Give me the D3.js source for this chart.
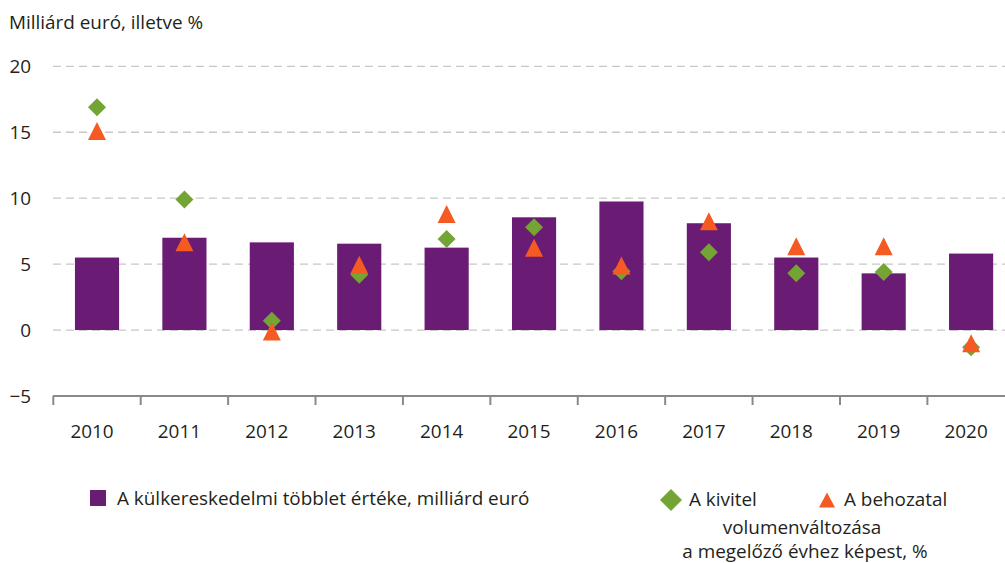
<!DOCTYPE html>
<html><head><meta charset="utf-8">
<script src="https://cdn.jsdelivr.net/npm/d3@7"></script>
<style>body{margin:0;background:#fff}svg{display:block;font-family:"Open Sans","Noto Sans",sans-serif}</style>
</head><body><svg id="c" width="1005" height="563"></svg>
<script>
const years = ["2010","2011","2012","2013","2014","2015","2016","2017","2018","2019","2020"];
const surplus = [5.5, 7.0, 6.65, 6.55, 6.25, 8.55, 9.75, 8.1, 5.5, 4.3, 5.8];
const exportVol = [16.9, 9.9, 0.7, 4.2, 6.9, 7.8, 4.45, 5.9, 4.3, 4.4, -1.3];
const importVol = [15.1, 6.65, -0.1, 4.95, 8.8, 6.25, 4.9, 8.25, 6.35, 6.35, -1.0];
const yTicks = [20, 15, 10, 5, 0, -5];

const purple = "#6a1b73", green = "#74a433", orange = "#f45a22";
const FS = 18.9;
const svg = d3.select("#c");
const x = d3.scaleBand().domain(years).range([53.3, 1014.8]).paddingInner(0.495).paddingOuter(0.2475);
const xb = d3.scaleBand().domain(years).range([53.3, 1014.8]);
const y = d3.scaleLinear().domain([-5, 20]).range([396, 66.3]);

svg.append("text").attr("x", 9).attr("y", 29).attr("font-size", FS).attr("fill", "#231f20").text("Milliárd euró, illetve %");

// grid
svg.append("g").selectAll("line").data(yTicks.filter(d => d > -5)).join("line")
  .attr("x1", 53).attr("x2", 1005).attr("y1", d => y(d)).attr("y2", d => y(d))
  .attr("stroke", "#c8c8c8").attr("stroke-width", 1.3).attr("stroke-dasharray", "8,5");

svg.append("g").selectAll("text").data(yTicks).join("text")
  .attr("x", 31).attr("y", d => y(d)).attr("dy", "0.35em").attr("text-anchor", "end")
  .attr("font-size", FS).attr("fill", "#231f20").text(d => d < 0 ? "\u2212" + Math.abs(d) : d);

// axis
const ax = svg.append("g").attr("transform", `translate(0,${y(-5)})`)
  .call(d3.axisBottom(xb).tickSize(0).tickFormat(""));
ax.select(".domain").remove();
ax.append("line").attr("x1", 53).attr("x2", 1005).attr("stroke", "#898989").attr("stroke-width", 2);
ax.selectAll(".bnd").data(years).join("line").attr("class", "bnd")
  .attr("x1", d => xb(d)).attr("x2", d => xb(d)).attr("y1", 0).attr("y2", 9)
  .attr("stroke", "#898989").attr("stroke-width", 2);
svg.append("g").selectAll("text").data(years).join("text")
  .attr("x", d => xb(d) + xb.bandwidth() / 2 - 5).attr("y", 438).attr("text-anchor", "middle")
  .attr("font-size", FS).attr("fill", "#231f20").text(d => d);

// bars
svg.append("g").selectAll("rect").data(years).join("rect")
  .attr("x", d => x(d)).attr("width", x.bandwidth())
  .attr("y", (d, i) => y(Math.max(0, surplus[i]))).attr("height", (d, i) => Math.abs(y(surplus[i]) - y(0)))
  .attr("fill", purple);

const diamond = "M0,-9L9,0L0,9L-9,0Z";
const tri = "M0,-9L9,9L-9,9Z";
svg.append("g").selectAll("path").data(years).join("path")
  .attr("transform", (d, i) => `translate(${x(d) + x.bandwidth() / 2},${y(exportVol[i])})`)
  .attr("d", diamond).attr("fill", green);
svg.append("g").selectAll("path").data(years).join("path")
  .attr("transform", (d, i) => `translate(${x(d) + x.bandwidth() / 2},${y(importVol[i])})`)
  .attr("d", tri).attr("fill", orange);

// legend
const lg = svg.append("g");
lg.append("rect").attr("x", 90).attr("y", 490).attr("width", 16).attr("height", 16).attr("fill", purple);
lg.append("text").attr("x", 117).attr("y", 505).attr("font-size", FS).attr("fill", "#231f20").text("A külkereskedelmi többlet értéke, milliárd euró");
lg.append("path").attr("transform", "translate(671,500)").attr("d", "M0,-11L11,0L0,11L-11,0Z").attr("fill", green);
lg.append("text").attr("x", 689).attr("y", 506).attr("font-size", FS).attr("fill", "#231f20").text("A kivitel");
lg.append("path").attr("transform", "translate(827,500)").attr("d", "M0,-7.5L8,7.5L-8,7.5Z").attr("fill", orange);
lg.append("text").attr("x", 844).attr("y", 506).attr("font-size", FS).attr("fill", "#231f20").text("A behozatal");
lg.append("text").attr("x", 802).attr("y", 534).attr("text-anchor", "middle").attr("font-size", FS).attr("fill", "#231f20").text("volumenváltozása");
lg.append("text").attr("x", 805).attr("y", 558).attr("text-anchor", "middle").attr("font-size", FS).attr("fill", "#231f20").text("a megelőző évhez képest, %");
</script></body></html>
